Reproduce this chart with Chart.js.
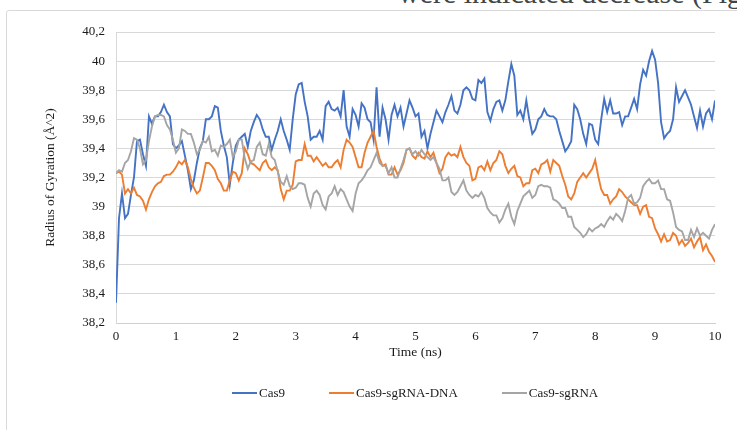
<!DOCTYPE html>
<html>
<head>
<meta charset="utf-8">
<script src="https://cdn.jsdelivr.net/npm/chart.js@4.4.1/dist/chart.umd.min.js"></script>
<style>
  html, body { margin: 0; padding: 0; width: 737px; height: 430px; overflow: hidden; background: #fff; }
  #caption { position: absolute; left: 398px; top: -22px; font: 30px "Liberation Serif", serif; line-height: 30px; color: #444; white-space: nowrap; }
  #frame { position: absolute; left: 6px; top: 10px; width: 800px; height: 500px; border: 1px solid #d9d9d9; border-radius: 3px; }
  #wrap { position: absolute; left: 0; top: 0; width: 737px; height: 430px; }
  #legend { position: absolute; left: 232px; top: 384px; display: flex; gap: 44px; font: 13px "Liberation Serif", serif; color: #1a1a1a; }
  #legend .item { display: flex; align-items: center; height: 18px; }
  #legend .swatch { width: 25px; height: 2px; margin-right: 2px; }
</style>
</head>
<body>
<div id="caption">were indicated decrease (Fig. 4)</div>
<div id="frame"></div>
<div id="wrap"><canvas id="rg-chart" width="737" height="430"></canvas></div>
<div id="legend"></div>
<script>
// sampling step of the trajectories (ns)
const STEP = 0.05;

// one row per ns, 20 samples each, last value at 10 ns
const CAS9 = [
  38.34, 38.92, 39.09, 38.92, 38.95, 39.08, 39.20, 39.45, 39.46, 39.36, 39.28, 39.62, 39.57, 39.62, 39.62, 39.65, 39.70, 39.65, 39.62, 39.43,
  39.40, 39.42, 39.45, 39.35, 39.25, 39.12, 39.18, 39.30, 39.40, 39.45, 39.60, 39.60, 39.62, 39.69, 39.68, 39.52, 39.42, 39.34, 39.15, 39.30,
  39.42, 39.46, 39.48, 39.50, 39.41, 39.52, 39.58, 39.63, 39.60, 39.53, 39.48, 39.48, 39.39, 39.46, 39.52, 39.60, 39.52, 39.46, 39.39, 39.60,
  39.77, 39.84, 39.85, 39.72, 39.62, 39.46, 39.48, 39.48, 39.52, 39.46, 39.69, 39.72, 39.67, 39.66, 39.68, 39.62, 39.80, 39.55, 39.48, 39.67,
  39.63, 39.55, 39.71, 39.68, 39.60, 39.58, 39.46, 39.82, 39.48, 39.68, 39.60, 39.46, 39.63, 39.70, 39.62, 39.68, 39.55, 39.64, 39.73, 39.68,
  39.62, 39.64, 39.48, 39.52, 39.40, 39.50, 39.58, 39.66, 39.62, 39.58, 39.65, 39.70, 39.76, 39.66, 39.64, 39.70, 39.80, 39.82, 39.80, 39.74,
  39.73, 39.87, 39.85, 39.88, 39.65, 39.59, 39.67, 39.72, 39.73, 39.66, 39.73, 39.86, 39.98, 39.90, 39.63, 39.66, 39.60, 39.73, 39.60, 39.50,
  39.53, 39.60, 39.62, 39.67, 39.63, 39.62, 39.62, 39.60, 39.52, 39.45, 39.38, 39.41, 39.45, 39.70, 39.67, 39.60, 39.50, 39.43, 39.57, 39.56,
  39.46, 39.43, 39.60, 39.74, 39.65, 39.73, 39.64, 39.64, 39.65, 39.56, 39.62, 39.62, 39.68, 39.74, 39.67, 39.84, 39.94, 39.90, 40.00, 40.07,
  40.01, 39.85, 39.58, 39.47, 39.50, 39.52, 39.60, 39.82, 39.72, 39.76, 39.80, 39.75, 39.70, 39.62, 39.54, 39.66, 39.55, 39.64, 39.67, 39.60,
  39.73
];

const CAS9_SGRNA_DNA = [
  39.23, 39.24, 39.22, 39.09, 39.12, 39.09, 39.13, 39.08, 39.07, 39.04, 38.98, 39.05, 39.10, 39.14, 39.16, 39.17, 39.21, 39.22, 39.22, 39.24,
  39.27, 39.31, 39.29, 39.32, 39.27, 39.19, 39.13, 39.09, 39.11, 39.20, 39.30, 39.30, 39.28, 39.25, 39.19, 39.16, 39.11, 39.11, 39.18, 39.24,
  39.23, 39.18, 39.23, 39.40, 39.36, 39.30, 39.29, 39.27, 39.25, 39.30, 39.32, 39.27, 39.25, 39.27, 39.25, 39.12, 39.05, 39.11, 39.11, 39.15,
  39.31, 39.32, 39.32, 39.43, 39.35, 39.35, 39.31, 39.34, 39.31, 39.28, 39.30, 39.27, 39.27, 39.30, 39.32, 39.27, 39.39, 39.46, 39.44, 39.41,
  39.34, 39.27, 39.27, 39.37, 39.44, 39.48, 39.52, 39.41, 39.33, 39.28, 39.29, 39.22, 39.22, 39.27, 39.22, 39.25, 39.30, 39.39, 39.40, 39.35,
  39.33, 39.37, 39.34, 39.33, 39.38, 39.34, 39.37, 39.30, 39.23, 39.26, 39.34, 39.37, 39.35, 39.36, 39.34, 39.41, 39.34, 39.30, 39.28, 39.18,
  39.19, 39.27, 39.28, 39.25, 39.31, 39.25, 39.30, 39.32, 39.38, 39.36, 39.28, 39.23, 39.26, 39.28, 39.21, 39.20, 39.14, 39.16, 39.16, 39.25,
  39.26, 39.23, 39.29, 39.30, 39.32, 39.24, 39.32, 39.30, 39.28, 39.21, 39.15, 39.07, 39.05, 39.09, 39.17, 39.20, 39.23, 39.20, 39.23, 39.26,
  39.32, 39.21, 39.12, 39.08, 39.08, 39.02, 39.05, 39.07, 39.12, 39.10, 39.07, 39.05, 39.03, 39.01, 39.01, 38.95, 39.00, 39.01, 38.93, 38.92,
  38.85, 38.81, 38.76, 38.81, 38.76, 38.77, 38.82, 38.80, 38.74, 38.77, 38.73, 38.75, 38.78, 38.72, 38.76, 38.79, 38.70, 38.74, 38.69, 38.66,
  38.62
];

const CAS9_SGRNA = [
  39.23, 39.25, 39.24, 39.30, 39.32, 39.38, 39.47, 39.46, 39.40, 39.29, 39.32, 39.45, 39.55, 39.62, 39.63, 39.63, 39.62, 39.56, 39.53, 39.46,
  39.37, 39.40, 39.53, 39.52, 39.50, 39.50, 39.44, 39.36, 39.39, 39.45, 39.44, 39.48, 39.38, 39.39, 39.35, 39.42, 39.41, 39.43, 39.46, 39.34,
  39.38, 39.46, 39.46, 39.33, 39.26, 39.31, 39.32, 39.41, 39.44, 39.36, 39.35, 39.43, 39.34, 39.32, 39.24, 39.17, 39.15, 39.21, 39.14, 39.12,
  39.13, 39.16, 39.16, 39.15, 39.06, 39.00, 39.09, 39.11, 39.08, 39.01, 38.98, 39.07, 39.09, 39.14, 39.08, 39.12, 39.10, 39.05, 39.00, 38.97,
  39.09, 39.16, 39.18, 39.21, 39.25, 39.27, 39.32, 39.37, 39.30, 39.28, 39.28, 39.23, 39.27, 39.20, 39.20, 39.26, 39.32, 39.39, 39.40, 39.36,
  39.38, 39.35, 39.39, 39.36, 39.34, 39.32, 39.34, 39.30, 39.26, 39.18, 39.18, 39.20, 39.10, 39.08, 39.10, 39.14, 39.18, 39.11, 39.08, 39.06,
  39.08, 39.07, 39.10, 39.06, 38.99, 38.96, 38.94, 38.94, 38.89, 38.92, 38.98, 39.02, 38.93, 38.88, 38.97, 39.02, 39.07, 39.09, 39.11, 39.06,
  39.08, 39.14, 39.15, 39.14, 39.14, 39.13, 39.05, 39.04, 39.02, 38.99, 38.99, 38.93, 38.93, 38.86, 38.84, 38.82, 38.79, 38.81, 38.85, 38.83,
  38.85, 38.86, 38.88, 38.86, 38.90, 38.93, 38.91, 38.95, 38.93, 38.90, 38.97, 39.06, 39.08, 39.02, 39.03, 39.06, 39.14, 39.17, 39.19, 39.16,
  39.16, 39.18, 39.12, 39.12, 39.05, 39.04, 38.96, 38.86, 38.84, 38.83, 38.77, 38.77, 38.84, 38.79, 38.85, 38.80, 38.82, 38.80, 38.78, 38.84,
  38.88
];

const SERIES_LABELS = ['Cas9', 'Cas9-sgRNA-DNA', 'Cas9-sgRNA'];
const SERIES_COLORS = ['#4472c4', '#ed7d31', '#a5a5a5'];
const SERIES_DATA = [CAS9, CAS9_SGRNA_DNA, CAS9_SGRNA];

const Y_MIN = 38.2, Y_MAX = 40.2, Y_STEP = 0.2;
const X_MIN = 0, X_MAX = 10, X_STEP = 1;

const SERIF = '"Liberation Serif", "Times New Roman", serif';
const toPoints = arr => arr.map((v, i) => ({ x: i * STEP, y: v }));

// legend (html so the spacing matches the original figure)
const legendEl = document.getElementById('legend');
SERIES_LABELS.forEach((label, i) => {
    const item = document.createElement('div');
    item.className = 'item';
    const sw = document.createElement('span');
    sw.className = 'swatch';
    sw.style.background = SERIES_COLORS[i];
    const txt = document.createElement('span');
    txt.textContent = label;
    item.append(sw, txt);
    legendEl.appendChild(item);
});

new Chart(document.getElementById('rg-chart'), {
    type: 'line',
    data: {
        datasets: SERIES_DATA.map((arr, i) => ({
            label: SERIES_LABELS[i],
            data: toPoints(arr),
            borderColor: SERIES_COLORS[i],
            backgroundColor: SERIES_COLORS[i],
            borderWidth: 1.9,
            pointRadius: 0,
            tension: 0,
            order: SERIES_DATA.length - i,
        })),
    },
    options: {
        responsive: false,
        animation: false,
        layout: { padding: { left: 38, right: 22, top: 32, bottom: 65 } },
        plugins: {
            legend: { display: false },
            tooltip: { enabled: false },
        },
        scales: {
            x: {
                type: 'linear',
                min: X_MIN,
                max: X_MAX,
                grid: { display: false, drawTicks: false },
                border: { color: '#cfcfcf' },
                ticks: { stepSize: X_STEP, padding: 6, color: '#1a1a1a', font: { family: SERIF, size: 13 } },
                title: { display: true, text: 'Time (ns)', color: '#1a1a1a', font: { family: SERIF, size: 13.5 } },
                afterFit: axis => { axis.height = 42; },
            },
            y: {
                min: Y_MIN,
                max: Y_MAX,
                grid: { color: '#d9d9d9', drawTicks: false },
                border: { color: '#d9d9d9' },
                ticks: {
                    stepSize: Y_STEP,
                    padding: 11,
                    color: '#1a1a1a',
                    font: { family: SERIF, size: 13 },
                    callback: v => String(Math.round(v * 10) / 10).replace('.', ','),
                },
                title: { display: true, text: 'Radius of Gyration (Å^2)', color: '#1a1a1a', font: { family: SERIF, size: 13.5 } },
                afterFit: axis => { axis.width = 78; },
            },
        },
    },
});
</script>
</body>
</html>
